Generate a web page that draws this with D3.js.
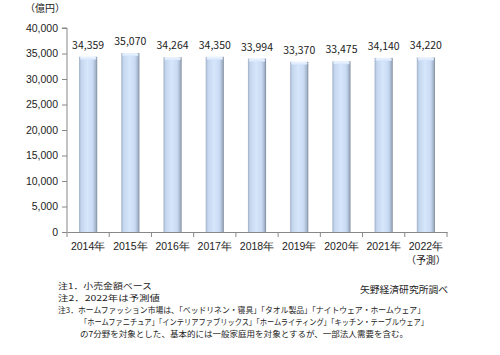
<!DOCTYPE html>
<html><head><meta charset="utf-8">
<script src="https://cdn.jsdelivr.net/npm/d3@7"></script>
<style>
body{margin:0;background:#fff;}
svg{display:block;font-family:"Noto Sans CJK JP","Noto Sans",sans-serif;}
</style></head>
<body><svg id="c" width="500" height="355"></svg>
<script>
const categories = ["2014年","2015年","2016年","2017年","2018年","2019年","2020年","2021年","2022年"];
const values = [34359,35070,34264,34350,33994,33370,33475,34140,34220];
const yTicks = [0,5000,10000,15000,20000,25000,30000,35000,40000];
const unitLabel = "（億円）";
const forecastLabel = "（予測）";
const notes = ["注1．小売金額ベース","注2．2022年は予測値","注3．ホームファッション市場は、「ベッドリネン・寝具」「タオル製品」「ナイトウェア・ホームウェア」","「ホームファニチュア」「インテリアファブリックス」「ホームライティング」「キッチン・テーブルウェア」","の7分野を対象とした、基本的には一般家庭用を対象とするが、一部法人需要を含む。"];
const source = "矢野経済研究所調べ";

const svg = d3.select("#c");
const x0 = 67, x1 = 447, yTop = 28, yBot = 232;
const x = d3.scaleBand().domain(categories).range([x0,x1]).paddingInner(0.57).paddingOuter(0.285);
const y = d3.scaleLinear().domain([0,40000]).range([yBot,yTop]);

const defs = svg.append("defs");
const g = defs.append("linearGradient").attr("id","bg").attr("x1","0").attr("x2","1").attr("y1","0").attr("y2","0");
[[0,"#9fb0c6"],[0.12,"#c4d6ee"],[0.45,"#d6e6fb"],[0.75,"#c9dbf4"],[0.9,"#a9b9cf"],[1,"#7f8c9e"]].forEach(([o,c])=>g.append("stop").attr("offset",o).attr("stop-color",c));
const gt = defs.append("linearGradient").attr("id","tg").attr("x1","0").attr("x2","0").attr("y1","0").attr("y2","1");
[[0,"#eef5ff"],[1,"#d6e6fb"]].forEach(([o,c])=>gt.append("stop").attr("offset",o).attr("stop-color",c));

// axes
const ya = d3.axisLeft(y).tickValues(yTicks).tickSize(5).tickFormat(d3.format(","));
const yg = svg.append("g").attr("transform",`translate(${x0},0)`).call(ya);
yg.select(".domain").attr("stroke","#888").attr("d",`M-5,${yTop}H0V${yBot}`);
yg.selectAll(".tick line").attr("stroke","#888");
yg.selectAll(".tick text").attr("font-size","10.5px").attr("fill","#222").attr("x",-9);

const xa = d3.axisBottom(x).tickSize(0).tickFormat(d=>d);
const xg = svg.append("g").attr("transform",`translate(0,${yBot})`).call(xa);
xg.select(".domain").attr("stroke","#888");
xg.selectAll(".tick text").attr("font-size","10.5px").attr("fill","#222").attr("dy","0").attr("y",18);
const bounds = d3.range(categories.length+1).map(i=>x0+i*(x1-x0)/categories.length);
xg.selectAll(".sep").data(bounds).join("line").attr("class","sep")
  .attr("x1",d=>d).attr("x2",d=>d).attr("y1",0).attr("y2",5).attr("stroke","#888");

// bars
const bw = x.bandwidth();
const bars = svg.append("g").selectAll("g").data(values).join("g");
bars.append("rect").attr("x",(d,i)=>x(categories[i])).attr("y",d=>y(d)).attr("width",bw).attr("height",d=>yBot-y(d)).attr("fill","url(#bg)");
bars.append("rect").attr("x",(d,i)=>x(categories[i])+1).attr("y",d=>y(d)).attr("width",bw-2).attr("height",3).attr("rx",1.5).attr("fill","url(#tg)");

svg.append("g").selectAll("text").data(values).join("text")
  .attr("x",(d,i)=>x(categories[i])+bw/2).attr("y",d=>y(d)-8)
  .attr("text-anchor","middle").attr("font-size","10.5px").attr("fill","#222")
  .text(d=>d3.format(",")(d));

svg.append("text").attr("x",x(categories[8])+bw/2).attr("y",yBot+32).attr("text-anchor","middle").attr("font-size","10px").attr("fill","#222").text(forecastLabel);
svg.append("text").attr("x",25).attr("y",12).attr("font-size","10px").attr("fill","#222").text(unitLabel);

const nx=[58,58,58,80,80], ny=[289,301,313,325,337], nw=[94,102,367,348,328];
svg.append("g").selectAll("text").data(notes).join("text")
  .attr("x",(d,i)=>nx[i]).attr("y",(d,i)=>ny[i]).attr("font-size","8.2px").attr("fill","#222")
  .attr("textLength",(d,i)=>nw[i]).attr("lengthAdjust","spacingAndGlyphs").text(d=>d);
svg.append("text").attr("x",360).attr("y",293).attr("font-size","9.5px").attr("fill","#222")
  .attr("textLength",88).attr("lengthAdjust","spacingAndGlyphs").text(source);
</script></body></html>
